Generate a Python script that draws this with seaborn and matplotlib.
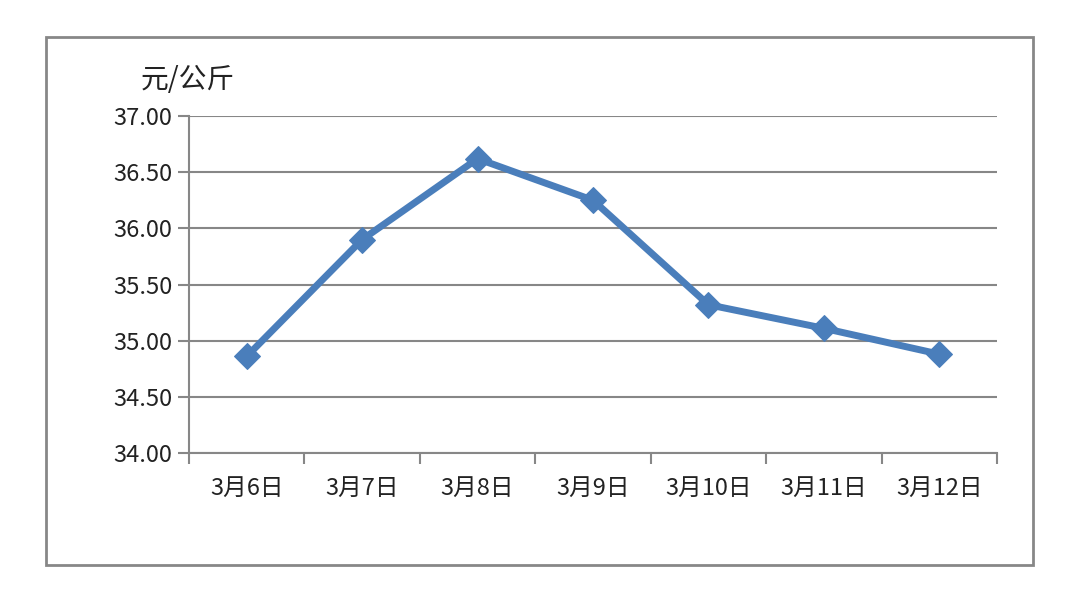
import numpy as np
import pandas as pd
import seaborn as sns
import matplotlib.pyplot as plt
from matplotlib.patches import Rectangle

# 数据：每日价格（元/公斤）
dates = ['3月6日', '3月7日', '3月8日', '3月9日', '3月10日', '3月11日', '3月12日']
prices = [34.86, 35.90, 36.62, 36.25, 35.32, 35.11, 34.88]
y_ticks = [34.0, 34.5, 35.0, 35.5, 36.0, 36.5, 37.0]

df = pd.DataFrame({'date': dates, 'price': prices})

sns.set_style('white')
plt.rcParams['font.family'] = ['Noto Sans CJK SC', 'DejaVu Sans']

grey = '#878787'
blue = '#4A7EBB'

fig = plt.figure(figsize=(10.8, 5.9), dpi=100)
ax = fig.add_axes([189 / 1080, 1 - 453 / 590, (997 - 189) / 1080, (453 - 116) / 590])

sns.lineplot(data=df, x='date', y='price', ax=ax, color=blue, linewidth=5,
             marker='D', markersize=13, markeredgecolor=blue, sort=False)

ax.set_xlim(-0.5, len(dates) - 0.5)
ax.set_ylim(34.0, 37.0)
ax.set_yticks(y_ticks)
ax.set_yticklabels([f'{v:.2f}' for v in y_ticks], fontsize=17, color='#222222')
ax.set_xticks(range(len(dates)))
ax.set_xticklabels(dates, fontsize=17, color='#222222')
ax.set_xticks(np.arange(-0.5, len(dates)), minor=True)
ax.tick_params(axis='x', which='major', bottom=True, length=0, pad=17)
ax.tick_params(axis='x', which='minor', bottom=True, length=8, width=1.5, color=grey, direction='out')
ax.tick_params(axis='y', left=True, length=8, width=1.5, color=grey, direction='out', pad=4)
ax.yaxis.grid(True, color=grey, linewidth=1.5)
ax.set_axisbelow(True)
for s in ['top', 'right']:
    ax.spines[s].set_visible(False)
for s in ['left', 'bottom']:
    ax.spines[s].set_color(grey)
    ax.spines[s].set_linewidth(1.5)
ax.set_xlabel('')
ax.set_ylabel('')

fig.text(141 / 1080, 1 - 80 / 590, '元/公斤', fontsize=20, va='center', ha='left', color='#222222')

# 外框
fig.patches.append(Rectangle((46 / 1080, 1 - 565 / 590), (1033 - 46) / 1080, (565 - 37) / 590,
                             transform=fig.transFigure, fill=False, edgecolor=grey, linewidth=2))

fig.savefig('out.png', dpi=100, facecolor='white')
